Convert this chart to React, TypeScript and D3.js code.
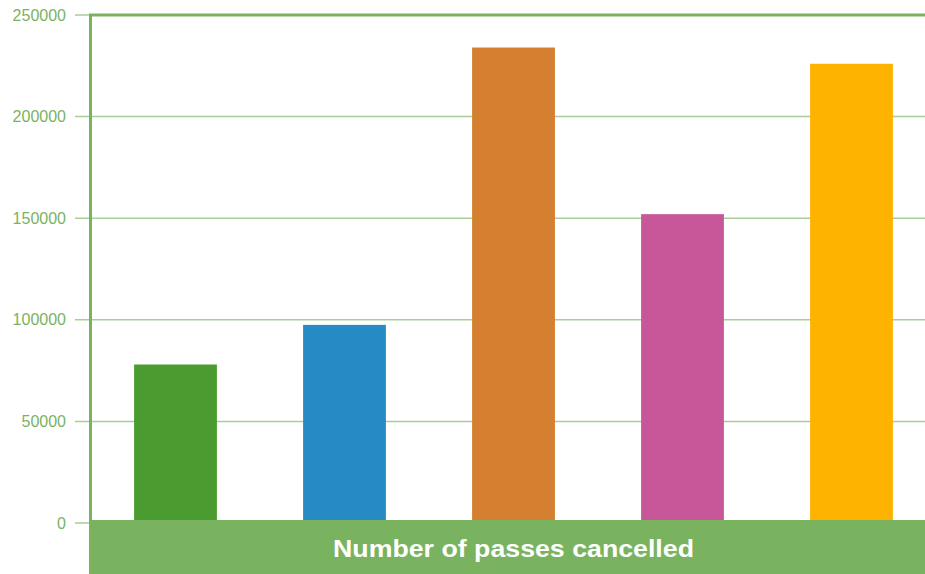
import { useEffect, useRef } from 'react'
import * as d3 from 'd3'

const categories = ['A', 'B', 'C', 'D', 'E']
const values = [78000, 97500, 234000, 152000, 226000]
const barColors = ['#4a9b30', '#268bc4', '#d48030', '#c8579a', '#fdb300']
const yTicks = [0, 50000, 100000, 150000, 200000, 250000]
const title = 'Number of passes cancelled'

export default function App() {
  const ref = useRef<SVGSVGElement>(null)

  useEffect(() => {
    const svgEl = ref.current
    if (!svgEl) return
    const width = 925, height = 574
    const svg = d3.select(svgEl)
    svg.selectAll('*').remove()

    const x = d3.scaleBand<string>().domain(categories).range([91, 936]).paddingInner(0.51).paddingOuter(0.255)
    const y = d3.scaleLinear().domain([0, 250000]).range([523, 15])

    const font = 'Helvetica, "Liberation Sans", Arial, sans-serif'

    // grid + ticks
    const grid = svg.append('g')
    grid.selectAll('line').data(yTicks).enter().append('line')
      .attr('x1', 75).attr('x2', width)
      .attr('y1', d => y(d)).attr('y2', d => y(d))
      .attr('stroke', '#a9cd99').attr('stroke-width', 1.5)

    grid.selectAll('text').data(yTicks).enter().append('text')
      .attr('x', 66).attr('y', d => y(d)).attr('dy', '0.35em')
      .attr('text-anchor', 'end')
      .attr('font-family', font).attr('font-size', 16)
      .attr('fill', '#7ab360')
      .text(d => String(d))

    // bars
    svg.append('g').selectAll('rect').data(values).enter().append('rect')
      .attr('x', (_, i) => x(categories[i]) as number)
      .attr('width', x.bandwidth())
      .attr('y', d => y(d))
      .attr('height', d => y(0) - y(d))
      .attr('fill', (_, i) => barColors[i])

    // frame: left and top
    svg.append('path')
      .attr('d', `M${90.5},${height} L${90.5},${15} L${width},${15}`)
      .attr('fill', 'none').attr('stroke', '#7ab360').attr('stroke-width', 3)

    // bottom band with title
    svg.append('rect')
      .attr('x', 89).attr('y', 520).attr('width', width - 89).attr('height', height - 520)
      .attr('fill', '#7ab360')
    svg.append('text')
      .attr('x', 513.5).attr('y', 548).attr('dy', '0.35em')
      .attr('text-anchor', 'middle')
      .attr('font-family', font).attr('font-size', 24.5).attr('font-weight', 'bold')
      .attr('textLength', 361).attr('lengthAdjust', 'spacingAndGlyphs')
      .attr('fill', '#ffffff')
      .text(title)
  }, [])

  return (
    <svg ref={ref} width={925} height={574}
      style={{ position: 'absolute', left: 0, top: 0, display: 'block' }} />
  )
}
